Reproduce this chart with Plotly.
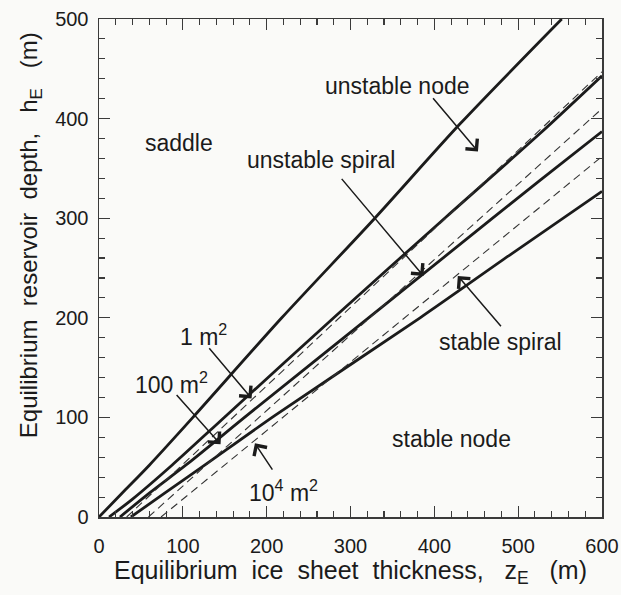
import plotly.graph_objects as go

# ---- data ----
# solid boundaries
zA = [0, 30, 60, 112, 218, 329, 431, 552]
hA = [0, 26, 52, 100, 200, 300, 395, 500]

zB = [12, 40, 87, 152, 280, 415, 526, 600]
hB = [0, 18, 52, 102, 200, 302, 385, 443]

zC = [25, 60, 105, 178, 323, 468, 526, 600]
hC = [0, 24, 53, 103, 201, 299, 338, 387]

zD = [38, 80, 126, 210, 383, 490, 600]
hD = [0, 25, 52, 102, 200, 263, 327]

# dashed straight lines
zD1 = [33, 600]
hD1 = [0, 447]
zD2 = [59, 600]
hD2 = [0, 410]
zD3 = [74, 600]
hD3 = [0, 362]

x_ticks = [0, 100, 200, 300, 400, 500, 600]
y_ticks = [0, 100, 200, 300, 400, 500]

FONT = "Liberation Sans, Arial, Helvetica, sans-serif"
INK = "#1b1b1b"

fig = go.Figure()
for zz, hh in [(zA, hA), (zB, hB), (zC, hC), (zD, hD)]:
    fig.add_trace(go.Scatter(x=zz, y=hh, mode="lines",
                             line=dict(color=INK, width=2.8, shape="spline", smoothing=0.8),
                             hoverinfo="skip", showlegend=False))
for zz, hh in [(zD1, hD1), (zD2, hD2), (zD3, hD3)]:
    fig.add_trace(go.Scatter(x=zz, y=hh, mode="lines",
                             line=dict(color="#333333", width=1.1, dash="8px,5px"),
                             hoverinfo="skip", showlegend=False))

# region labels
labels = [
    ("saddle", 96, 376),
    ("unstable node", 356, 433),
    ("unstable spiral", 265, 358),
    ("stable spiral", 479, 176),
    ("stable node", 420, 78),
    ("1 m<sup>2</sup>", 125, 183),
    ("100 m<sup>2</sup>", 86, 135),
    ("10<sup>4</sup> m<sup>2</sup>", 220, 26),
]
for t, x, y in labels:
    fig.add_annotation(x=x, y=y, text=t, showarrow=False,
                       font=dict(family=FONT, size=23, color=INK),
                       xanchor="center", yanchor="middle")

# arrows: (tail z, tail h, tip z, tip h)
arrows = [
    (397, 422, 452, 367),
    (288, 341, 387, 242),
    (481, 190, 428, 242),
    (130, 171, 182, 119),
    (91, 124, 145, 73),
    (208, 46, 186, 74),
]
for x0, y0, x1, y1 in arrows:
    fig.add_annotation(x=x1, y=y1, ax=x0, ay=y0, xref="x", yref="y",
                       axref="x", ayref="y", text="", showarrow=True,
                       arrowhead=4, arrowsize=2.0, arrowwidth=1.5,
                       arrowcolor=INK, standoff=0)

# axis titles
fig.add_annotation(xref="paper", yref="paper", x=0.5, y=-0.11,
                   text="Equilibrium\u00a0 ice\u00a0 sheet\u00a0 thickness,\u00a0\u00a0 z<sub>E</sub>\u00a0\u00a0 (m)",
                   showarrow=False, font=dict(family=FONT, size=25, color=INK),
                   xanchor="center", yanchor="middle")
fig.add_annotation(xref="paper", yref="paper", x=-0.137, y=0.566,
                   text="Equilibrium\u00a0 reservoir\u00a0 depth,\u00a0\u00a0 h<sub>E</sub>\u00a0\u00a0 (m)",
                   showarrow=False, textangle=-90, font=dict(family=FONT, size=24, color=INK),
                   xanchor="center", yanchor="middle")

axis_common = dict(
    showgrid=False, zeroline=False, showline=True, linecolor="#3a3a3a", linewidth=1.5,
    mirror="ticks", ticks="inside", ticklen=11, tickwidth=1.3, tickcolor="#3a3a3a",
    tickfont=dict(family=FONT, size=20, color=INK), automargin=False,
    minor=dict(ticks="inside", ticklen=6, tickwidth=1.1, tickcolor="#3a3a3a", dtick=20, showgrid=False),
)
fig.update_xaxes(range=[0, 600], tickmode="array", tickvals=x_ticks,
                 ticklabelstandoff=10, **axis_common)
fig.update_yaxes(range=[0, 500], tickmode="array", tickvals=y_ticks,
                 ticklabelstandoff=5, **axis_common)

fig.update_layout(
    width=621, height=595,
    margin=dict(l=99, r=19, t=19, b=78),
    paper_bgcolor="#fafaf8", plot_bgcolor="#fafaf8",
    showlegend=False,
)

# remove the default page margin so the 621x595 figure fills the window exactly
fig.write_html("out.html", config={"displayModeBar": False, "staticPlot": True},
               post_script="document.body.style.margin='0';document.body.style.overflow='hidden';")
